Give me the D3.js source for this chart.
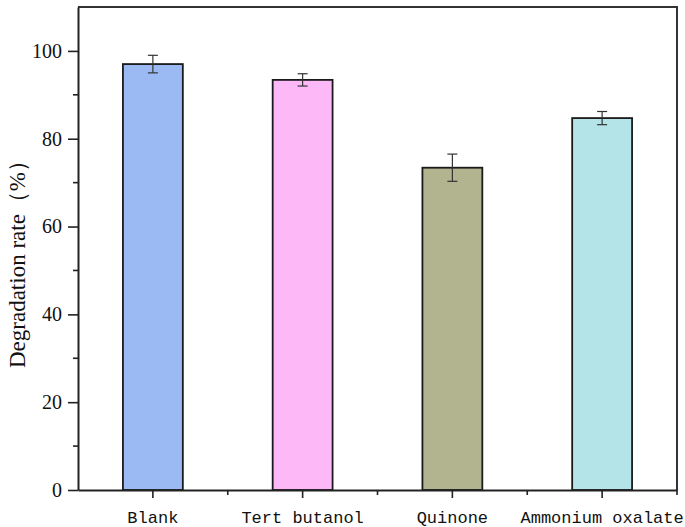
<!DOCTYPE html>
<html>
<head>
<meta charset="utf-8">
<script src="https://cdn.jsdelivr.net/npm/d3@7"></script>
<style>
  body { margin: 0; background: #fff; }
  .axis text { font-family: "Liberation Serif", serif; font-size: 20px; fill: #111; }
  .xlab { font-family: "Liberation Mono", monospace; font-size: 17px; fill: #111; }
</style>
</head>
<body>
<script>
(function(){
  //chart values
  const categories = ['Blank', 'Tert butanol', 'Quinone', 'Ammonium oxalate'];
  const rates = [97.0, 93.4, 73.4, 84.7];
  const errors = [2.0, 1.4, 3.1, 1.5];
  const colors = ['#9bbaf3', '#fdb8f8', '#b1b48f', '#b4e3e8'];
  const yTicks = [0, 20, 40, 60, 80, 100];

  const width = 685, height = 527;
  const left = 78, right = 677, top = 7, bottom = 490;

  const svg = d3.select('body').append('svg')
    .attr('width', width)
    .attr('height', height);

  const x = d3.scaleBand()
    .domain(categories)
    .range([left, right])
    .paddingInner(0.6)
    .paddingOuter(0.3);

  const y = d3.scaleLinear()
    .domain([0, 110])
    .range([bottom, top]);

  //frame top and right
  svg.append('path')
    .attr('d', 'M' + left + ',' + top + 'H' + right + 'V' + bottom)
    .attr('fill', 'none')
    .attr('stroke', '#333')
    .attr('stroke-width', 2);

  //bars
  svg.selectAll('.bar')
    .data(categories)
    .enter().append('rect')
    .attr('class', 'bar')
    .attr('x', d => x(d))
    .attr('width', x.bandwidth())
    .attr('y', (d, i) => y(rates[i]))
    .attr('height', (d, i) => y(0) - y(rates[i]))
    .attr('fill', (d, i) => colors[i])
    .attr('stroke', '#1a1a1a')
    .attr('stroke-width', 1.8);

  //error bars
  const err = svg.selectAll('.err')
    .data(categories)
    .enter().append('g')
    .attr('class', 'err')
    .attr('stroke', '#333')
    .attr('stroke-width', 1.2);
  const cx = d => x(d) + x.bandwidth() / 2;
  err.append('line')
    .attr('x1', cx).attr('x2', cx)
    .attr('y1', (d, i) => y(rates[i] + errors[i]))
    .attr('y2', (d, i) => y(rates[i] - errors[i]));
  err.append('line')
    .attr('x1', d => cx(d) - 5).attr('x2', d => cx(d) + 5)
    .attr('y1', (d, i) => y(rates[i] + errors[i]))
    .attr('y2', (d, i) => y(rates[i] + errors[i]));
  err.append('line')
    .attr('x1', d => cx(d) - 5).attr('x2', d => cx(d) + 5)
    .attr('y1', (d, i) => y(rates[i] - errors[i]))
    .attr('y2', (d, i) => y(rates[i] - errors[i]));

  //y axis
  const yAxis = svg.append('g')
    .attr('class', 'axis')
    .attr('transform', 'translate(' + left + ',0)')
    .call(d3.axisLeft(y).tickValues(yTicks).tickSize(10).tickPadding(6).tickSizeOuter(0));
  yAxis.selectAll('.tick line').attr('stroke', '#222').attr('stroke-width', 1.6);
  yAxis.select('.domain').attr('stroke', '#222').attr('stroke-width', 2);
  //minor y ticks
  yAxis.selectAll('.minor')
    .data(d3.range(10, 110, 20))
    .enter().append('line')
    .attr('class', 'minor')
    .attr('x1', -5).attr('x2', 0)
    .attr('y1', d => y(d)).attr('y2', d => y(d))
    .attr('stroke', '#222').attr('stroke-width', 1.6);

  //x axis
  const xAxis = svg.append('g')
    .attr('class', 'axis')
    .attr('transform', 'translate(0,' + bottom + ')')
    .call(d3.axisBottom(x).tickSize(8).tickSizeOuter(0).tickFormat(''));
  xAxis.selectAll('.tick line').attr('stroke', '#222').attr('stroke-width', 1.6);
  xAxis.select('.domain').attr('stroke', '#222').attr('stroke-width', 2);
  //minor x ticks at band edges
  const step = x.step();
  xAxis.selectAll('.minor')
    .data(categories.slice(1))
    .enter().append('line')
    .attr('class', 'minor')
    .attr('x1', d => cx(d) - step / 2).attr('x2', d => cx(d) - step / 2)
    .attr('y1', 0).attr('y2', 5)
    .attr('stroke', '#222').attr('stroke-width', 1.6);
  xAxis.append('line')
    .attr('x1', right).attr('x2', right)
    .attr('y1', 0).attr('y2', 5)
    .attr('stroke', '#222').attr('stroke-width', 1.6);

  //category labels
  svg.selectAll('.xlab')
    .data(categories)
    .enter().append('text')
    .attr('class', 'xlab')
    .attr('x', cx)
    .attr('y', 523)
    .attr('text-anchor', 'middle')
    .text(d => d);

  //y title
  svg.append('text')
    .attr('transform', 'translate(25,' + ((top + bottom) / 2 + 10) + ') rotate(-90)')
    .attr('text-anchor', 'middle')
    .style('font-family', '"Liberation Serif", serif')
    .style('font-size', '23px')
    .style('fill', '#111')
    .text('Degradation rate（%）');
})();
</script>
</body>
</html>
